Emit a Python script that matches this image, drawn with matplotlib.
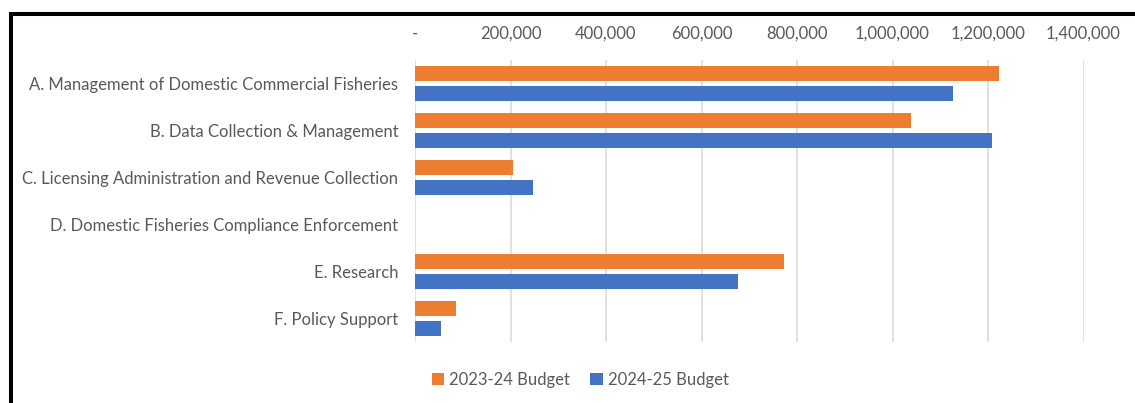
import matplotlib.pyplot as plt
import numpy as np
from matplotlib.patches import Rectangle
from matplotlib.ticker import FuncFormatter

categories = [
    "A. Management of Domestic Commercial Fisheries",
    "B. Data Collection & Management",
    "C. Licensing Administration and Revenue Collection",
    "D. Domestic Fisheries Compliance Enforcement",
    "E. Research",
    "F. Policy Support",
]
budget_2023_24 = [1222000, 1039000, 205000, 0, 773000, 86000]
budget_2024_25 = [1127000, 1208000, 248000, 0, 677000, 55000]
series_names = ["2023-24 Budget", "2024-25 Budget"]

ORANGE = "#ED7D31"
BLUE = "#4472C4"
TEXT = "#595959"
GRID = "#D9D9D9"

plt.rcParams['font.family'] = ['Lato', 'DejaVu Sans']

W, H = 1135, 403
fig = plt.figure(figsize=(W / 100, H / 100), dpi=100)

# plot area in pixel terms
left, right, top, bottom = 415, 1083.5, 60, 342
ax = fig.add_axes([left / W, 1 - bottom / H, (right - left) / W, (bottom - top) / H])

y = np.arange(len(categories))
h = 0.32
off = 0.213
ax.barh(y - off, budget_2023_24, height=h, color=ORANGE, label=series_names[0], zorder=3)
ax.barh(y + off, budget_2024_25, height=h, color=BLUE, label=series_names[1], zorder=3)

ax.set_ylim(len(categories) - 0.5, -0.5)
ax.set_xlim(0, 1400000)
ax.set_yticks(y)
ax.set_yticklabels(categories, fontsize=12, color=TEXT)
ax.set_xticks(np.arange(0, 1400001, 200000))
ax.xaxis.set_major_formatter(FuncFormatter(lambda v, p: "-" if v == 0 else f"{v:,.0f}"))
ax.xaxis.tick_top()
ax.tick_params(axis='x', length=0, pad=13, labelsize=12, labelcolor=TEXT)
ax.tick_params(axis='y', length=0, pad=12)
ax.grid(axis='x', color=GRID, linewidth=1.1, zorder=0)
for s in ax.spines.values():
    s.set_visible(False)

fig.legend(loc='center', bbox_to_anchor=(580 / W, 1 - 380 / H), ncol=2, frameon=False,
           fontsize=12, labelcolor=TEXT, handlelength=0.75, handleheight=0.75,
           handletextpad=0.3, columnspacing=1.2)

# heavy frame around the chart, running past the right and bottom edges
fig.patches.append(Rectangle((11 / W, -0.2), 1.2, 1.2 - 13.5 / H, transform=fig.transFigure,
                             fill=False, edgecolor='black', linewidth=2.9, zorder=10))

fig.savefig("out.png", dpi=100)
